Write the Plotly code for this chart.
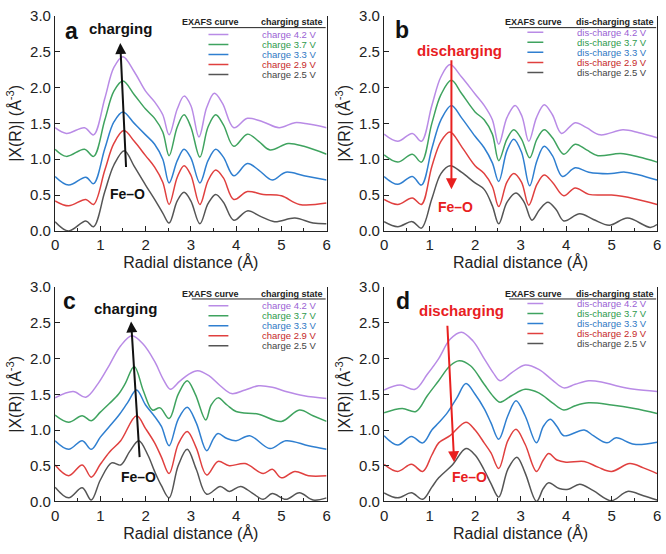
import plotly.graph_objects as go

# ---------------- data (Radial distance in Å, |X(R)| in Å^-3) ----------------
VOLTS = ["4.2", "3.7", "3.3", "2.9", "2.5"]
COLORS = ["#b98be6", "#3fa35f", "#2f7fd0", "#e0403f", "#555555"]
TEXT_COLORS = ["#9a5fd4", "#2e9a4c", "#2f78c4", "#c62828", "#444444"]
X_TICKS = [0, 1, 2, 3, 4, 5, 6]
Y_TICKS = [0.0, 0.5, 1.0, 1.5, 2.0, 2.5, 3.0]

# panel a (charging)
A_X_42 = [0, 0.25, 0.65, 0.85, 1.1, 1.3, 1.5, 1.75, 2.0, 2.2, 2.38, 2.52, 2.7, 2.85, 3.0, 3.18, 3.35, 3.52, 3.7, 3.95, 4.25, 4.6, 4.95, 5.3, 5.6, 6.0]
A_Y_42 = [1.44, 1.36, 1.44, 1.34, 1.85, 2.28, 2.43, 2.22, 1.95, 1.80, 1.62, 1.34, 1.70, 1.88, 1.75, 1.31, 1.72, 1.92, 1.78, 1.44, 1.57, 1.52, 1.44, 1.51, 1.49, 1.44]
A_X_37 = [0, 0.25, 0.65, 0.85, 1.1, 1.3, 1.5, 1.75, 2.0, 2.2, 2.38, 2.52, 2.7, 2.85, 3.0, 3.2, 3.38, 3.55, 3.72, 3.95, 4.25, 4.5, 4.75, 5.15, 5.5, 6.0]
A_Y_37 = [1.14, 1.04, 1.14, 1.04, 1.55, 1.95, 2.09, 1.90, 1.70, 1.57, 1.38, 1.05, 1.45, 1.62, 1.45, 1.03, 1.45, 1.62, 1.48, 1.18, 1.35, 1.25, 1.13, 1.22, 1.18, 1.07]
A_X_33 = [0, 0.3, 0.68, 0.85, 1.1, 1.3, 1.5, 1.75, 2.0, 2.2, 2.38, 2.52, 2.7, 2.85, 3.0, 3.2, 3.38, 3.55, 3.72, 3.95, 4.25, 4.5, 4.8, 5.1, 5.5, 6.0]
A_Y_33 = [0.76, 0.64, 0.75, 0.66, 1.15, 1.52, 1.66, 1.50, 1.34, 1.21, 1.00, 0.67, 0.98, 1.14, 1.02, 0.67, 0.98, 1.14, 1.03, 0.77, 0.94, 0.85, 0.71, 0.82, 0.77, 0.71]
A_X_29 = [0, 0.3, 0.68, 0.85, 1.1, 1.3, 1.52, 1.75, 2.0, 2.2, 2.38, 2.52, 2.7, 2.85, 3.0, 3.2, 3.38, 3.55, 3.72, 3.95, 4.25, 4.6, 5.0, 5.4, 6.0]
A_Y_29 = [0.42, 0.35, 0.44, 0.37, 0.85, 1.22, 1.40, 1.25, 1.05, 0.89, 0.68, 0.37, 0.75, 0.91, 0.78, 0.37, 0.70, 0.85, 0.74, 0.44, 0.55, 0.51, 0.49, 0.37, 0.39]
A_X_25 = [0, 0.3, 0.68, 0.85, 1.1, 1.3, 1.53, 1.75, 2.0, 2.2, 2.38, 2.52, 2.7, 2.85, 3.0, 3.2, 3.38, 3.55, 3.72, 3.95, 4.25, 4.55, 4.85, 5.3, 5.7, 6.0]
A_Y_25 = [0.13, 0.0, 0.14, 0.06, 0.55, 0.92, 1.12, 0.90, 0.64, 0.44, 0.25, 0.11, 0.42, 0.54, 0.42, 0.10, 0.38, 0.51, 0.40, 0.15, 0.28, 0.20, 0.13, 0.18, 0.11, 0.10]

# panel b (discharging)
B_X_42 = [0, 0.3, 0.62, 0.82, 1.05, 1.25, 1.45, 1.7, 2.0, 2.2, 2.38, 2.52, 2.7, 2.88, 3.03, 3.18, 3.35, 3.52, 3.7, 3.9, 4.2, 4.45, 4.75, 5.25, 5.6, 6.0]
B_Y_42 = [1.35, 1.25, 1.36, 1.25, 1.75, 2.15, 2.32, 2.15, 1.91, 1.75, 1.55, 1.21, 1.58, 1.75, 1.60, 1.25, 1.58, 1.76, 1.62, 1.36, 1.51, 1.44, 1.34, 1.41, 1.37, 1.30]
B_X_37 = [0, 0.3, 0.62, 0.82, 1.05, 1.25, 1.48, 1.7, 2.0, 2.2, 2.38, 2.52, 2.7, 2.85, 3.02, 3.2, 3.36, 3.52, 3.7, 3.95, 4.2, 4.45, 4.7, 5.2, 5.6, 6.0]
B_Y_37 = [1.06, 0.96, 1.07, 0.96, 1.50, 1.90, 2.10, 1.92, 1.66, 1.55, 1.35, 0.98, 1.28, 1.41, 1.28, 1.02, 1.28, 1.41, 1.30, 1.07, 1.21, 1.13, 1.05, 1.08, 1.03, 0.96]
B_X_33 = [0, 0.3, 0.62, 0.82, 1.05, 1.25, 1.48, 1.7, 2.0, 2.2, 2.38, 2.52, 2.7, 2.85, 3.02, 3.2, 3.36, 3.52, 3.7, 3.92, 4.2, 4.5, 5.0, 5.3, 6.0]
B_Y_33 = [0.76, 0.65, 0.76, 0.64, 1.15, 1.55, 1.75, 1.58, 1.32, 1.16, 0.95, 0.69, 1.12, 1.28, 1.10, 0.63, 0.98, 1.18, 1.05, 0.76, 0.88, 0.82, 0.80, 0.82, 0.71]
B_X_29 = [0, 0.3, 0.62, 0.82, 1.05, 1.25, 1.45, 1.7, 2.0, 2.2, 2.38, 2.52, 2.7, 2.85, 3.02, 3.18, 3.36, 3.52, 3.7, 3.95, 4.2, 4.5, 5.0, 5.5, 6.0]
B_Y_29 = [0.44, 0.37, 0.46, 0.37, 0.90, 1.25, 1.38, 1.18, 0.91, 0.80, 0.62, 0.34, 0.68, 0.80, 0.68, 0.36, 0.65, 0.78, 0.68, 0.49, 0.60, 0.51, 0.50, 0.45, 0.37]
B_X_25 = [0, 0.3, 0.62, 0.82, 1.05, 1.25, 1.45, 1.7, 2.0, 2.2, 2.38, 2.52, 2.7, 2.9, 3.08, 3.25, 3.42, 3.6, 3.78, 3.95, 4.3, 4.6, 4.95, 5.35, 5.85, 6.0]
B_Y_25 = [0.13, 0.06, 0.13, 0.04, 0.45, 0.80, 0.91, 0.82, 0.67, 0.58, 0.35, 0.10, 0.40, 0.53, 0.40, 0.15, 0.30, 0.40, 0.30, 0.14, 0.24, 0.16, 0.08, 0.18, 0.05, 0.09]

# panel c (charging)
C_X_42 = [0, 0.4, 0.68, 0.95, 1.2, 1.45, 1.7, 1.95, 2.2, 2.4, 2.55, 2.75, 2.95, 3.15, 3.4, 3.65, 3.9, 4.2, 4.5, 4.8, 5.1, 5.5, 6.0]
C_Y_42 = [1.45, 1.54, 1.46, 1.65, 1.91, 2.18, 2.32, 2.20, 1.96, 1.70, 1.57, 1.68, 1.78, 1.83, 1.76, 1.62, 1.51, 1.56, 1.62, 1.60, 1.54, 1.48, 1.44]
C_X_37 = [0, 0.3, 0.6, 0.8, 1.0, 1.2, 1.4, 1.55, 1.75, 1.95, 2.15, 2.32, 2.52, 2.72, 2.92, 3.1, 3.33, 3.45, 3.6, 3.8, 4.0, 4.5, 5.0, 5.4, 5.7, 6.0]
C_Y_37 = [1.21, 1.11, 1.20, 1.13, 1.25, 1.37, 1.50, 1.65, 1.89, 1.55, 1.28, 1.31, 1.16, 1.50, 1.69, 1.50, 1.14, 1.35, 1.45, 1.35, 1.26, 1.22, 1.12, 1.28, 1.20, 1.12]
C_X_33 = [0, 0.3, 0.6, 0.8, 1.0, 1.2, 1.4, 1.6, 1.8, 2.0, 2.2, 2.35, 2.52, 2.72, 2.92, 3.12, 3.35, 3.5, 3.6, 3.8, 4.0, 4.3, 4.75, 5.1, 5.6, 6.0]
C_Y_33 = [0.85, 0.73, 0.85, 0.73, 0.90, 1.05, 1.20, 1.38, 1.56, 1.35, 1.19, 1.05, 0.78, 1.15, 1.32, 1.10, 0.71, 0.88, 0.95, 0.88, 0.85, 0.92, 0.74, 0.85, 0.78, 0.73]
C_X_29 = [0, 0.3, 0.6, 0.8, 1.0, 1.2, 1.45, 1.8, 2.0, 2.2, 2.35, 2.52, 2.72, 2.92, 3.12, 3.35, 3.6, 3.85, 4.2, 4.6, 4.8, 5.0, 5.3, 5.6, 6.0]
C_Y_29 = [0.51, 0.36, 0.51, 0.34, 0.52, 0.69, 0.85, 1.20, 1.02, 0.82, 0.62, 0.39, 0.80, 0.98, 0.75, 0.37, 0.56, 0.50, 0.53, 0.39, 0.45, 0.33, 0.42, 0.36, 0.36]
C_X_25 = [0, 0.3, 0.6, 0.8, 1.0, 1.25, 1.45, 1.65, 1.85, 2.05, 2.2, 2.35, 2.52, 2.72, 2.92, 3.12, 3.35, 3.65, 3.85, 4.1, 4.35, 4.6, 4.8, 5.1, 5.4, 5.7, 6.0]
C_Y_25 = [0.20, 0.05, 0.19, 0.02, 0.30, 0.54, 0.51, 0.70, 0.85, 0.65, 0.42, 0.22, 0.05, 0.50, 0.73, 0.45, 0.10, 0.21, 0.14, 0.21, 0.12, 0.03, 0.11, 0.03, 0.12, 0.02, 0.05]

# panel d (discharging)
D_X_42 = [0, 0.35, 0.68, 0.95, 1.2, 1.45, 1.7, 1.95, 2.2, 2.4, 2.55, 2.8, 3.1, 3.4, 3.7, 3.95, 4.2, 4.5, 4.8, 5.1, 5.5, 6.0]
D_Y_42 = [1.56, 1.63, 1.57, 1.78, 2.00, 2.27, 2.37, 2.25, 2.00, 1.80, 1.69, 1.80, 1.91, 1.85, 1.70, 1.59, 1.64, 1.69, 1.67, 1.62, 1.57, 1.54]
D_X_37 = [0, 0.4, 0.7, 0.95, 1.2, 1.45, 1.65, 1.9, 2.2, 2.4, 2.55, 2.8, 3.1, 3.4, 3.7, 3.95, 4.2, 4.5, 5.0, 5.5, 6.0]
D_Y_37 = [1.24, 1.30, 1.26, 1.48, 1.69, 1.90, 1.97, 1.90, 1.64, 1.47, 1.39, 1.48, 1.57, 1.52, 1.38, 1.28, 1.34, 1.38, 1.35, 1.30, 1.23]
D_X_33 = [0, 0.3, 0.6, 0.85, 1.05, 1.2, 1.4, 1.6, 1.8, 2.0, 2.2, 2.35, 2.52, 2.72, 2.9, 3.1, 3.35, 3.5, 3.65, 3.8, 3.95, 4.4, 4.6, 4.9, 5.1, 5.5, 6.0]
D_Y_33 = [0.92, 0.79, 0.91, 0.82, 1.00, 1.10, 1.25, 1.45, 1.65, 1.50, 1.30, 1.10, 0.87, 1.20, 1.41, 1.20, 0.82, 1.05, 1.15, 1.05, 0.92, 1.00, 0.92, 0.82, 0.89, 0.80, 0.83]
D_X_29 = [0, 0.3, 0.6, 0.85, 1.05, 1.2, 1.45, 1.8, 2.0, 2.2, 2.35, 2.52, 2.72, 2.9, 3.1, 3.35, 3.5, 3.62, 3.8, 4.0, 4.4, 4.7, 5.0, 5.4, 5.7, 6.0]
D_Y_29 = [0.52, 0.42, 0.52, 0.42, 0.65, 0.82, 0.92, 1.11, 1.00, 0.82, 0.68, 0.46, 0.85, 1.01, 0.80, 0.42, 0.58, 0.67, 0.58, 0.55, 0.56, 0.48, 0.42, 0.53, 0.47, 0.39]
D_X_25 = [0, 0.3, 0.6, 0.85, 1.05, 1.2, 1.5, 1.8, 2.0, 2.2, 2.35, 2.52, 2.72, 2.92, 3.1, 3.35, 3.5, 3.62, 3.85, 4.05, 4.3, 4.6, 5.0, 5.35, 5.7, 6.0]
D_Y_25 = [0.12, 0.05, 0.12, 0.03, 0.20, 0.33, 0.51, 0.74, 0.65, 0.44, 0.25, 0.06, 0.45, 0.62, 0.40, 0.0, 0.18, 0.26, 0.18, 0.17, 0.24, 0.15, 0.01, 0.14, 0.08, 0.02]

PANELS = [
    dict(letter="a", kind="charge",
         series=[(A_X_42, A_Y_42), (A_X_37, A_Y_37), (A_X_33, A_Y_33), (A_X_29, A_Y_29), (A_X_25, A_Y_25)]),
    dict(letter="b", kind="discharge",
         series=[(B_X_42, B_Y_42), (B_X_37, B_Y_37), (B_X_33, B_Y_33), (B_X_29, B_Y_29), (B_X_25, B_Y_25)]),
    dict(letter="c", kind="charge",
         series=[(C_X_42, C_Y_42), (C_X_37, C_Y_37), (C_X_33, C_Y_33), (C_X_29, C_Y_29), (C_X_25, C_Y_25)]),
    dict(letter="d", kind="discharge",
         series=[(D_X_42, D_Y_42), (D_X_37, D_Y_37), (D_X_33, D_Y_33), (D_X_29, D_Y_29), (D_X_25, D_Y_25)]),
]

# arrow tail/head, text positions (data coords)
ARROWS = {
    "a": dict(tail=(1.57, 0.87), head=(1.44, 2.62), label=(1.44, 2.82), feo=(1.60, 0.51)),
    "b": dict(tail=(1.48, 2.40), head=(1.48, 0.58), label=(1.66, 2.51), feo=(1.56, 0.33)),
    "c": dict(tail=(1.87, 0.60), head=(1.68, 2.52), label=(1.56, 2.70), feo=(1.84, 0.34)),
    "d": dict(tail=(1.39, 2.48), head=(1.54, 0.55), label=(1.70, 2.68), feo=(1.87, 0.34)),
}
LETTER_POS = {"a": (0.18, 2.79), "b": (0.20, 2.80), "c": (0.14, 2.80), "d": (0.22, 2.81)}

# ---------------- layout geometry ----------------
W, H = 666, 554
XDOM = [(51.7 / W, 326.5 / W), (384.7 / W, 661.0 / W)]
YDOM = [((554 - 229) / H, (554 - 7) / H), ((554 - 508) / H, (554 - 287) / H)]
FONT = "Liberation Sans, Arial, sans-serif"

fig = go.Figure()
annotations = []
shapes = []

for i, p in enumerate(PANELS):
    n = i + 1
    xa = "x" if n == 1 else f"x{n}"
    ya = "y" if n == 1 else f"y{n}"
    col, row = i % 2, i // 2
    charge = p["kind"] == "charge"
    for k, (xs, ys) in enumerate(p["series"]):
        fig.add_trace(go.Scatter(
            x=xs, y=ys, mode="lines", xaxis=xa, yaxis=ya,
            line=dict(color=COLORS[k], width=1.5, shape="spline", smoothing=1.0),
            showlegend=False, hoverinfo="skip"))

    axk = "xaxis" if n == 1 else f"xaxis{n}"
    ayk = "yaxis" if n == 1 else f"yaxis{n}"
    fig.layout[axk] = dict(
        domain=list(XDOM[col]), anchor=ya, range=[0, 6], tickvals=X_TICKS,
        ticks="inside", ticklen=5, tickwidth=1, tickcolor="#222",
        minor=dict(ticks="inside", ticklen=3, dtick=0.5, tickcolor="#222"),
        showline=True, linecolor="#222", linewidth=1.2, mirror=False,
        showgrid=False, zeroline=False,
        tickfont=dict(family=FONT, size=15, color="#222"),
        title=dict(text="Radial distance (Å)", font=dict(family=FONT, size=16, color="#222"), standoff=0))
    fig.layout[ayk] = dict(
        domain=list(YDOM[row]), anchor=xa, range=[0, 3.0], tickvals=Y_TICKS, tickformat=".1f",
        ticks="inside", ticklen=5, tickwidth=1, tickcolor="#222",
        showline=True, linecolor="#222", linewidth=1.2, mirror=True,
        showgrid=False, zeroline=False,
        tickfont=dict(family=FONT, size=15, color="#222"),
        title=dict(text="|X(R)| (Å<sup>-3</sup>)", font=dict(family=FONT, size=16, color="#222"), standoff=4))

    # panel letter
    lx, ly = LETTER_POS[p["letter"]]
    annotations.append(dict(x=lx, y=ly, xref=xa, yref=ya, text=f"<b>{p['letter']}</b>",
                            showarrow=False, xanchor="left", yanchor="middle",
                            font=dict(family=FONT, size=23, color="#111")))
    # arrow
    ar = ARROWS[p["letter"]]
    acol = "#111111" if charge else "#e8201f"
    annotations.append(dict(x=ar["head"][0], y=ar["head"][1], ax=ar["tail"][0], ay=ar["tail"][1],
                            xref=xa, yref=ya, axref=xa, ayref=ya, text="", showarrow=True,
                            arrowhead=2, arrowsize=1.1, arrowwidth=2, arrowcolor=acol))
    annotations.append(dict(x=ar["label"][0], y=ar["label"][1], xref=xa, yref=ya,
                            text="<b>charging</b>" if charge else "<b>discharging</b>",
                            showarrow=False, font=dict(family=FONT, size=15, color=acol)))
    annotations.append(dict(x=ar["feo"][0], y=ar["feo"][1], xref=xa, yref=ya,
                            text="<b>Fe–O</b>", showarrow=False,
                            font=dict(family=FONT, size=14, color=acol)))

    # legend block (manual, two columns)
    if charge:
        hdr_l, line_x, rows, uline = 3.43, (3.39, 3.83), [2.74, 2.60, 2.46, 2.32, 2.18], 3.02
        state = "charging state"
        labels = [f"charge {v} V" for v in VOLTS]
    else:
        hdr_l, line_x, rows, uline = 3.29, (3.15, 3.50), [2.77, 2.63, 2.49, 2.35, 2.21], 2.75
        state = "dis-charging state"
        labels = [f"dis-charge {v} V" for v in VOLTS]
    hy = 2.91
    annotations.append(dict(x=hdr_l, y=hy, xref=xa, yref=ya, text="<b>EXAFS curve</b>", showarrow=False,
                            xanchor="center", borderpad=0, font=dict(family=FONT, size=9, color="#222")))
    annotations.append(dict(x=5.95, y=hy, xref=xa, yref=ya, text=f"<b>{state}</b>", showarrow=False,
                            xanchor="right", borderpad=0, font=dict(family=FONT, size=9, color="#222")))
    shapes.append(dict(type="line", xref=xa, yref=ya, x0=uline, x1=5.98, y0=hy - 0.075, y1=hy - 0.075,
                       line=dict(color="#222", width=1)))
    for k in range(5):
        shapes.append(dict(type="line", xref=xa, yref=ya, x0=line_x[0], x1=line_x[1], y0=rows[k], y1=rows[k],
                           line=dict(color=COLORS[k], width=1.5)))
        annotations.append(dict(x=5.8, y=rows[k], xref=xa, yref=ya, text=labels[k], showarrow=False,
                                xanchor="right", borderpad=0,
                                font=dict(family=FONT, size=9.5, color=TEXT_COLORS[k])))

fig.update_layout(
    width=W, height=H, margin=dict(l=0, r=0, t=0, b=0),
    plot_bgcolor="white", paper_bgcolor="white",
    annotations=annotations, shapes=shapes, showlegend=False,
    font=dict(family=FONT, color="#222"))

fig.write_html("out.html")
